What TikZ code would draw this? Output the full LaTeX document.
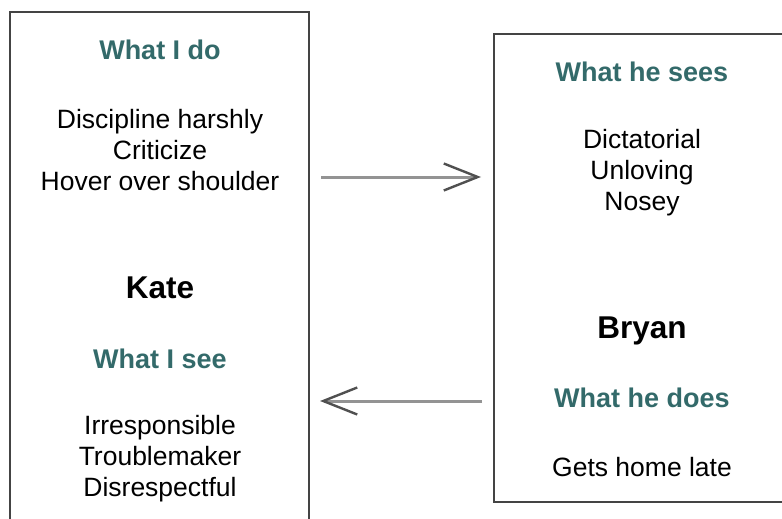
\documentclass[tikz,border=0pt]{standalone}
\usepackage{fontspec}
\setmainfont{Liberation Sans}
\usetikzlibrary{arrows.meta,positioning}
\definecolor{TealHead}{HTML}{336A6A}
\definecolor{BoxLine}{HTML}{444444}
\definecolor{ShaftGray}{HTML}{939393}
\definecolor{TipGray}{HTML}{505050}
\tikzset{
  caja/.style    = {draw=BoxLine, line width=2pt, fill=white, inner sep=0pt},
  titulo/.style  = {font=\fontsize{27}{31}\selectfont\bfseries, text=TealHead},
  lista/.style   = {font=\fontsize{26.5}{31}\selectfont, align=center},
  nombre/.style  = {font=\fontsize{31.5}{36}\selectfont\bfseries},
  flecha/.style  = {line width=3pt, draw=ShaftGray,
                    -{Straight Barb[length=34pt, width=27pt, line width=2.4pt, color=TipGray]}},
}
\begin{document}
\begin{tikzpicture}[x=1pt, y=-1pt]
  \useasboundingbox (0,0) rectangle (782,519);
  \clip (0,0) rectangle (782,519);
  % the two boxes
  \node[caja, minimum width=299pt, minimum height=530pt] (kbox) at (159.5,277) {};
  \node[caja, minimum width=296pt, minimum height=468pt] (bbox) at (642,268) {};
  % Kate
  \node[titulo] (kdo) at (160,50) {What I do};
  \node[lista] (kdolist) at (160,150) {Discipline harshly\\Criticize\\Hover over shoulder};
  \node[nombre] (kate) at (160,288) {Kate};
  \node[titulo] (ksee) at (160,359) {What I see};
  \node[lista] (kseelist) at (160,459) {Irresponsible\\Troublemaker\\Disrespectful};
  % Bryan
  \node[titulo] (bsee) at (642,72) {What he sees};
  \node[lista] (bseelist) at (642,173) {Dictatorial\\Unloving\\Nosey};
  \node[nombre] (bryan) at (642,331) {Bryan};
  \node[titulo] (bdo) at (642,398) {What he does};
  \node[lista] (bdolist) at (642,467) {Gets home late};
  % arrows
  \coordinate (a1) at (321,177);
  \coordinate (a2) at (481,177);
  \coordinate (b1) at (482,401);
  \coordinate (b2) at (320,401);
  \draw[flecha] (a1) -- (a2);
  \draw[flecha] (b1) -- (b2);
\end{tikzpicture}
\end{document}
